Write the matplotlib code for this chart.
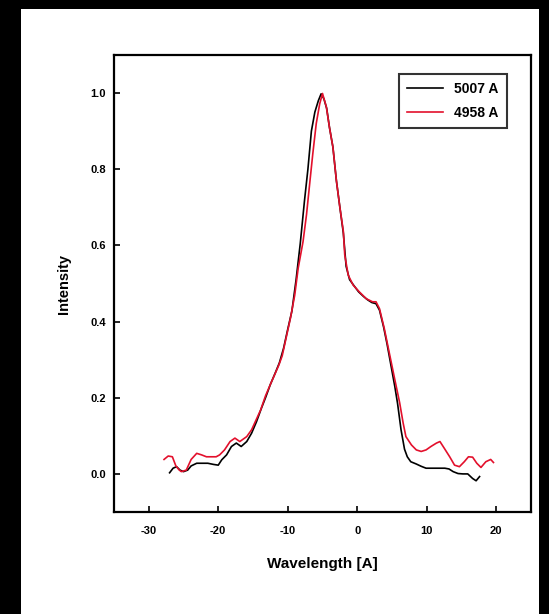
import numpy as np
import matplotlib
matplotlib.use("Agg")
import matplotlib.pyplot as plt
from matplotlib.patches import Rectangle

plt.rcParams['font.family'] = ['Liberation Sans', 'DejaVu Sans']
plt.rcParams['font.weight'] = 'bold'
plt.rcParams['axes.unicode_minus'] = False

# [O III] 5007 line profile
wl_5007 = [-27.0, -26.5, -26.0, -25.5, -25.0, -24.4, -23.9, -23.1, -22.3, -21.5,
           -20.7, -20.0, -19.5, -18.8, -18.1, -17.4, -16.7, -15.9, -15.2, -14.5,
           -13.8, -13.2, -12.5, -11.8, -11.2, -10.6, -10.0, -9.4, -8.8, -8.2,
           -7.6, -7.1, -6.6, -6.1, -5.6, -5.2, -4.8, -4.4, -4.0, -3.5,
           -3.0, -2.5, -2.0, -1.6, -1.1, -0.5, 0.2, 0.9, 1.5, 2.1,
           2.7, 3.2, 3.8, 4.3, 4.9, 5.4, 5.8, 6.3, 6.8, 7.2,
           7.7, 8.5, 9.2, 9.9, 10.6, 11.3, 12.0, 12.6, 13.2, 13.8,
           14.5, 15.2, 15.9, 16.6, 17.1, 17.6]
int_5007 = [0.003, 0.015, 0.019, 0.010, 0.006, 0.010, 0.021, 0.028, 0.028, 0.028,
            0.025, 0.023, 0.037, 0.050, 0.072, 0.081, 0.072, 0.085, 0.107, 0.137,
            0.172, 0.200, 0.235, 0.265, 0.292, 0.330, 0.380, 0.428, 0.510, 0.605,
            0.716, 0.800, 0.900, 0.950, 0.980, 0.998, 0.985, 0.960, 0.910, 0.858,
            0.770, 0.700, 0.632, 0.545, 0.510, 0.495, 0.478, 0.466, 0.457, 0.450,
            0.447, 0.430, 0.385, 0.340, 0.280, 0.230, 0.185, 0.116, 0.065, 0.045,
            0.032, 0.026, 0.020, 0.015, 0.015, 0.015, 0.015, 0.015, 0.013, 0.006,
            0.001, 0.000, 0.000, -0.012, -0.018, -0.007]

# [O III] 4958 line profile
wl_4958 = [-27.8, -27.2, -26.6, -26.1, -25.6, -25.3, -24.6, -23.9, -23.1, -22.4,
           -21.7, -21.0, -20.3, -19.8, -19.1, -18.3, -17.6, -16.9, -15.9, -15.2,
           -14.6, -13.9, -13.2, -12.5, -11.9, -11.3, -10.8, -10.2, -9.6, -9.0,
           -8.5, -7.8, -7.3, -6.8, -6.4, -5.9, -5.4, -5.0, -4.45, -4.0,
           -3.5, -3.0, -2.5, -2.0, -1.8, -1.3, -0.6, 0.3, 1.3, 2.2,
           2.7, 3.2, 3.9, 4.7, 5.4, 6.1, 6.6, 7.0, 7.8, 8.5,
           9.2, 9.9, 10.6, 11.4, 11.9, 12.5, 13.3, 14.0, 14.7, 15.4,
           16.0, 16.6, 17.2, 17.8, 18.5, 19.2, 19.6]
int_4958 = [0.038, 0.047, 0.045, 0.021, 0.010, 0.006, 0.010, 0.038, 0.054, 0.050,
            0.045, 0.045, 0.045, 0.050, 0.063, 0.085, 0.094, 0.085, 0.098, 0.116,
            0.140, 0.168, 0.205, 0.235, 0.260, 0.285, 0.310, 0.360, 0.410, 0.469,
            0.540, 0.610, 0.681, 0.770, 0.840, 0.920, 0.972, 0.999, 0.964, 0.910,
            0.858, 0.770, 0.700, 0.637, 0.575, 0.522, 0.496, 0.478, 0.460, 0.452,
            0.452, 0.434, 0.381, 0.310, 0.248, 0.187, 0.134, 0.098, 0.076, 0.063,
            0.059, 0.063, 0.072, 0.081, 0.085, 0.068, 0.045, 0.023, 0.019, 0.032,
            0.045, 0.044, 0.028, 0.017, 0.032, 0.038, 0.030]

labels = ['5007 A', '4958 A']
x_ticks = [-30, -20, -10, 0, 10, 20]
y_ticks = [0.0, 0.2, 0.4, 0.6, 0.8, 1.0]

W, H = 549, 614
fig = plt.figure(figsize=(W / 100, H / 100), dpi=100, facecolor='black')
# white page inside the black frame, drawn beneath the axes
fig.patches.append(Rectangle((21 / W, 0), (539 - 21) / W, (H - 9) / H,
                             transform=fig.transFigure, facecolor='white',
                             edgecolor='none', zorder=-10))

ax = fig.add_axes([114 / W, 1 - 512 / H, (531 - 114) / W, (512 - 55) / H])
ax.set_zorder(1)
ax.plot(wl_5007, int_5007, color='black', lw=1.2, label=labels[0])
ax.plot(wl_4958, int_4958, color='#e3102c', lw=1.2, label=labels[1])

ax.set_xlim(-35, 25)
ax.set_ylim(-0.1, 1.1)
ax.set_xticks(x_ticks)
ax.set_yticks(y_ticks)
ax.set_yticklabels([f'{v:.1f}' for v in y_ticks])
ax.tick_params(direction='in', length=4, width=1.2, labelsize=8)
ax.tick_params(axis='x', pad=10)
ax.tick_params(axis='y', pad=6)
for s in ax.spines.values():
    s.set_linewidth(1.6)

ax.set_xlabel('Wavelength [A]', fontsize=11, fontweight='bold', labelpad=15)
ax.set_ylabel('Intensity', fontsize=10.5, fontweight='bold', labelpad=14)

leg = ax.legend(loc='upper right', bbox_to_anchor=((507 - 114) / 417, (512 - 74) / 457),
                borderaxespad=0, fontsize=10, frameon=True, fancybox=False,
                handlelength=2.6, borderpad=0.6, labelspacing=0.7,
                handletextpad=0.8)
leg.get_frame().set_edgecolor('black')
leg.get_frame().set_linewidth(1.5)

fig.savefig('out.png', dpi=100, facecolor=fig.get_facecolor())
